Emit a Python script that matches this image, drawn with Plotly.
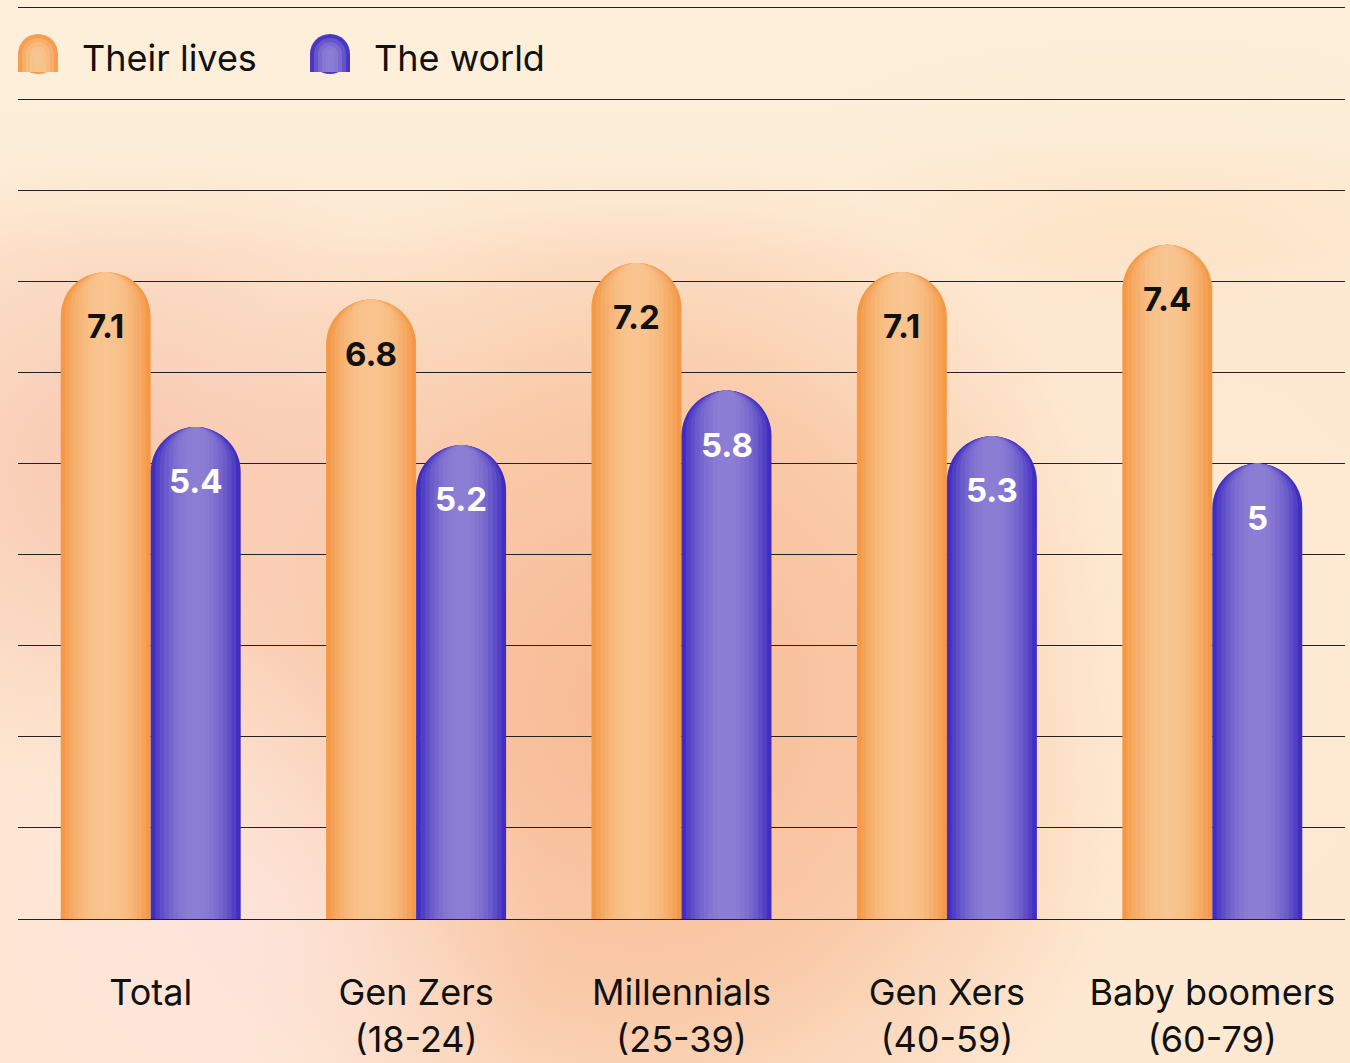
import base64
import plotly.graph_objects as go

# ---------------- data ----------------
categories = ["Total", "Gen Zers<br>(18-24)", "Millennials<br>(25-39)",
              "Gen Xers<br>(40-59)", "Baby boomers<br>(60-79)"]
their_lives = [7.1, 6.8, 7.2, 7.1, 7.4]
the_world = [5.4, 5.2, 5.8, 5.3, 5.0]
series_names = ["Their lives", "The world"]

# ---------------- styling ----------------
FONT = "Inter"
W, H = 1350, 1063
ML, MR, MT, MB = 18, 5, 8, 144
PW, PH = W - ML - MR, H - MT - MB
BAR_W = 90 / (PW / 5)           # bar width in category units
N_LAYERS = 10

orange_edge, orange_mid = (244, 148, 62), (248, 196, 143)
purple_edge, purple_mid = (56, 36, 190), (140, 126, 212)


def mix(edge, mid, t):
    k = t ** 2.2
    return "rgb(%d,%d,%d)" % tuple(round(m + (e - m) * k) for e, m in zip(edge, mid))


fig = go.Figure()

specs = [
    (their_lives, -BAR_W / 2, orange_edge, orange_mid),
    (the_world, BAR_W / 2, purple_edge, purple_mid),
]
for vals, center, edge, mid in specs:
    for i in range(N_LAYERS):
        frac = 1 - i / N_LAYERS
        t = max(frac - 0.5 / N_LAYERS, 0)
        fig.add_trace(go.Bar(
            x=categories, y=vals,
            width=BAR_W * frac,
            offset=center - BAR_W * frac / 2,
            marker=dict(color=mix(edge, mid, t), line=dict(width=0),
                        cornerradius="50%"),
            showlegend=False, hoverinfo="skip",
        ))

# value labels near the top of each bar
for vals, center, col in [(their_lives, -BAR_W / 2, "#111111"),
                          (the_world, BAR_W / 2, "#ffffff")]:
    for idx, v in enumerate(vals):
        fig.add_annotation(
            x=idx + center, y=v, xref="x", yref="y",
            text="<b>%g</b>" % v, showarrow=False,
            yshift=-54, yanchor="middle", xanchor="center",
            font=dict(family=FONT, size=33, color=col),
        )

# ---------------- custom legend ----------------
def px_x(p):
    return (p - ML) / PW


def px_y(p):
    return (H - MB - p) / PH


legend_items = [
    (series_names[0], 18, 80, orange_edge, orange_mid),
    (series_names[1], 310, 372, purple_edge, purple_mid),
]
ICON_W, TOP, BOT = 40, 34, 72
for name, x0, tx, edge, mid in legend_items:
    n = 5
    for i in range(n):
        frac = 1 - i / n
        t = max(frac - 0.5 / n, 0)
        col = mix(edge, mid, t)
        w = ICON_W * frac
        cx = x0 + ICON_W / 2
        r = w / 2
        fig.add_shape(type="rect", xref="paper", yref="paper",
                      x0=px_x(cx - r), x1=px_x(cx + r),
                      y0=px_y(BOT), y1=px_y(TOP + ICON_W / 2),
                      fillcolor=col, line=dict(width=0), layer="above")
        fig.add_shape(type="circle", xref="paper", yref="paper",
                      x0=px_x(cx - r), x1=px_x(cx + r),
                      y0=px_y(TOP + ICON_W / 2 + r), y1=px_y(TOP + ICON_W / 2 - r),
                      fillcolor=col, line=dict(width=0), layer="above")
    fig.add_annotation(x=px_x(tx), y=px_y(58), xref="paper", yref="paper",
                       text=name, showarrow=False, xanchor="left", yanchor="middle",
                       font=dict(family=FONT, size=36, color="#111111"))

# ---------------- background ----------------
svg = f"""<svg xmlns='http://www.w3.org/2000/svg' width='{W}' height='{H}' viewBox='0 0 {W} {H}'>
<defs>
<radialGradient id='salmon'><stop offset='0' stop-color='#f7b690' stop-opacity='0.95'/><stop offset='0.55' stop-color='#f8bd98' stop-opacity='0.7'/><stop offset='1' stop-color='#f9c4a2' stop-opacity='0'/></radialGradient>
<radialGradient id='pink'><stop offset='0' stop-color='#f8c2ab' stop-opacity='0.9'/><stop offset='1' stop-color='#f8c2ab' stop-opacity='0'/></radialGradient>
<radialGradient id='palepink'><stop offset='0' stop-color='#fde4dc' stop-opacity='0.95'/><stop offset='1' stop-color='#fde4dc' stop-opacity='0'/></radialGradient>
<radialGradient id='tr'><stop offset='0' stop-color='#fcd6aa' stop-opacity='0.9'/><stop offset='1' stop-color='#fcd6aa' stop-opacity='0'/></radialGradient>
<radialGradient id='cream'><stop offset='0' stop-color='#fdebd3' stop-opacity='0.95'/><stop offset='1' stop-color='#fdebd3' stop-opacity='0'/></radialGradient>
<linearGradient id='top' x1='0' y1='0' x2='0' y2='1'><stop offset='0' stop-color='#fdefda' stop-opacity='1'/><stop offset='0.13' stop-color='#fdefda' stop-opacity='0.9'/><stop offset='0.24' stop-color='#fdefda' stop-opacity='0'/></linearGradient>
</defs>
<rect width='{W}' height='{H}' fill='#fde8d1'/>
<ellipse cx='640' cy='700' rx='520' ry='560' fill='url(#salmon)'/>
<ellipse cx='130' cy='470' rx='380' ry='330' fill='url(#pink)'/>
<ellipse cx='220' cy='930' rx='330' ry='300' fill='url(#palepink)'/>
<ellipse cx='1230' cy='640' rx='260' ry='420' fill='url(#cream)'/>
<ellipse cx='1150' cy='90' rx='330' ry='230' fill='url(#tr)'/>
<rect width='{W}' height='{H}' fill='url(#top)'/>
</svg>"""
src = "data:image/svg+xml;base64," + base64.b64encode(svg.encode()).decode()
fig.add_layout_image(dict(source=src, xref="paper", yref="paper",
                          x=-ML / PW, y=1 + MT / PH, sizex=W / PW, sizey=H / PH,
                          xanchor="left", yanchor="top", sizing="stretch",
                          layer="below"))

fig.update_layout(
    width=W, height=H,
    margin=dict(l=ML, r=MR, t=MT, b=MB, autoexpand=False),
    barmode="overlay",
    paper_bgcolor="rgba(0,0,0,0)", plot_bgcolor="rgba(0,0,0,0)",
    showlegend=False,
    font=dict(family=FONT, color="#111111"),
)
fig.update_xaxes(
    type="category", showgrid=False, zeroline=False, automargin=False,
    showline=True, mirror=True, linecolor="#222222", linewidth=1.2,
    ticks="", tickfont=dict(family=FONT, size=36, color="#111111"),
    ticklabelstandoff=42,
)
fig.update_yaxes(
    range=[0, 10], dtick=1, showticklabels=False, showgrid=True,
    gridcolor="#222222", gridwidth=1.1, zeroline=False, automargin=False,
    showline=False, ticks="",
)

fig.write_html("out.html",
               config={"displayModeBar": False},
               post_script="document.body.style.margin='0';"
                           "document.body.style.overflow='hidden';")
